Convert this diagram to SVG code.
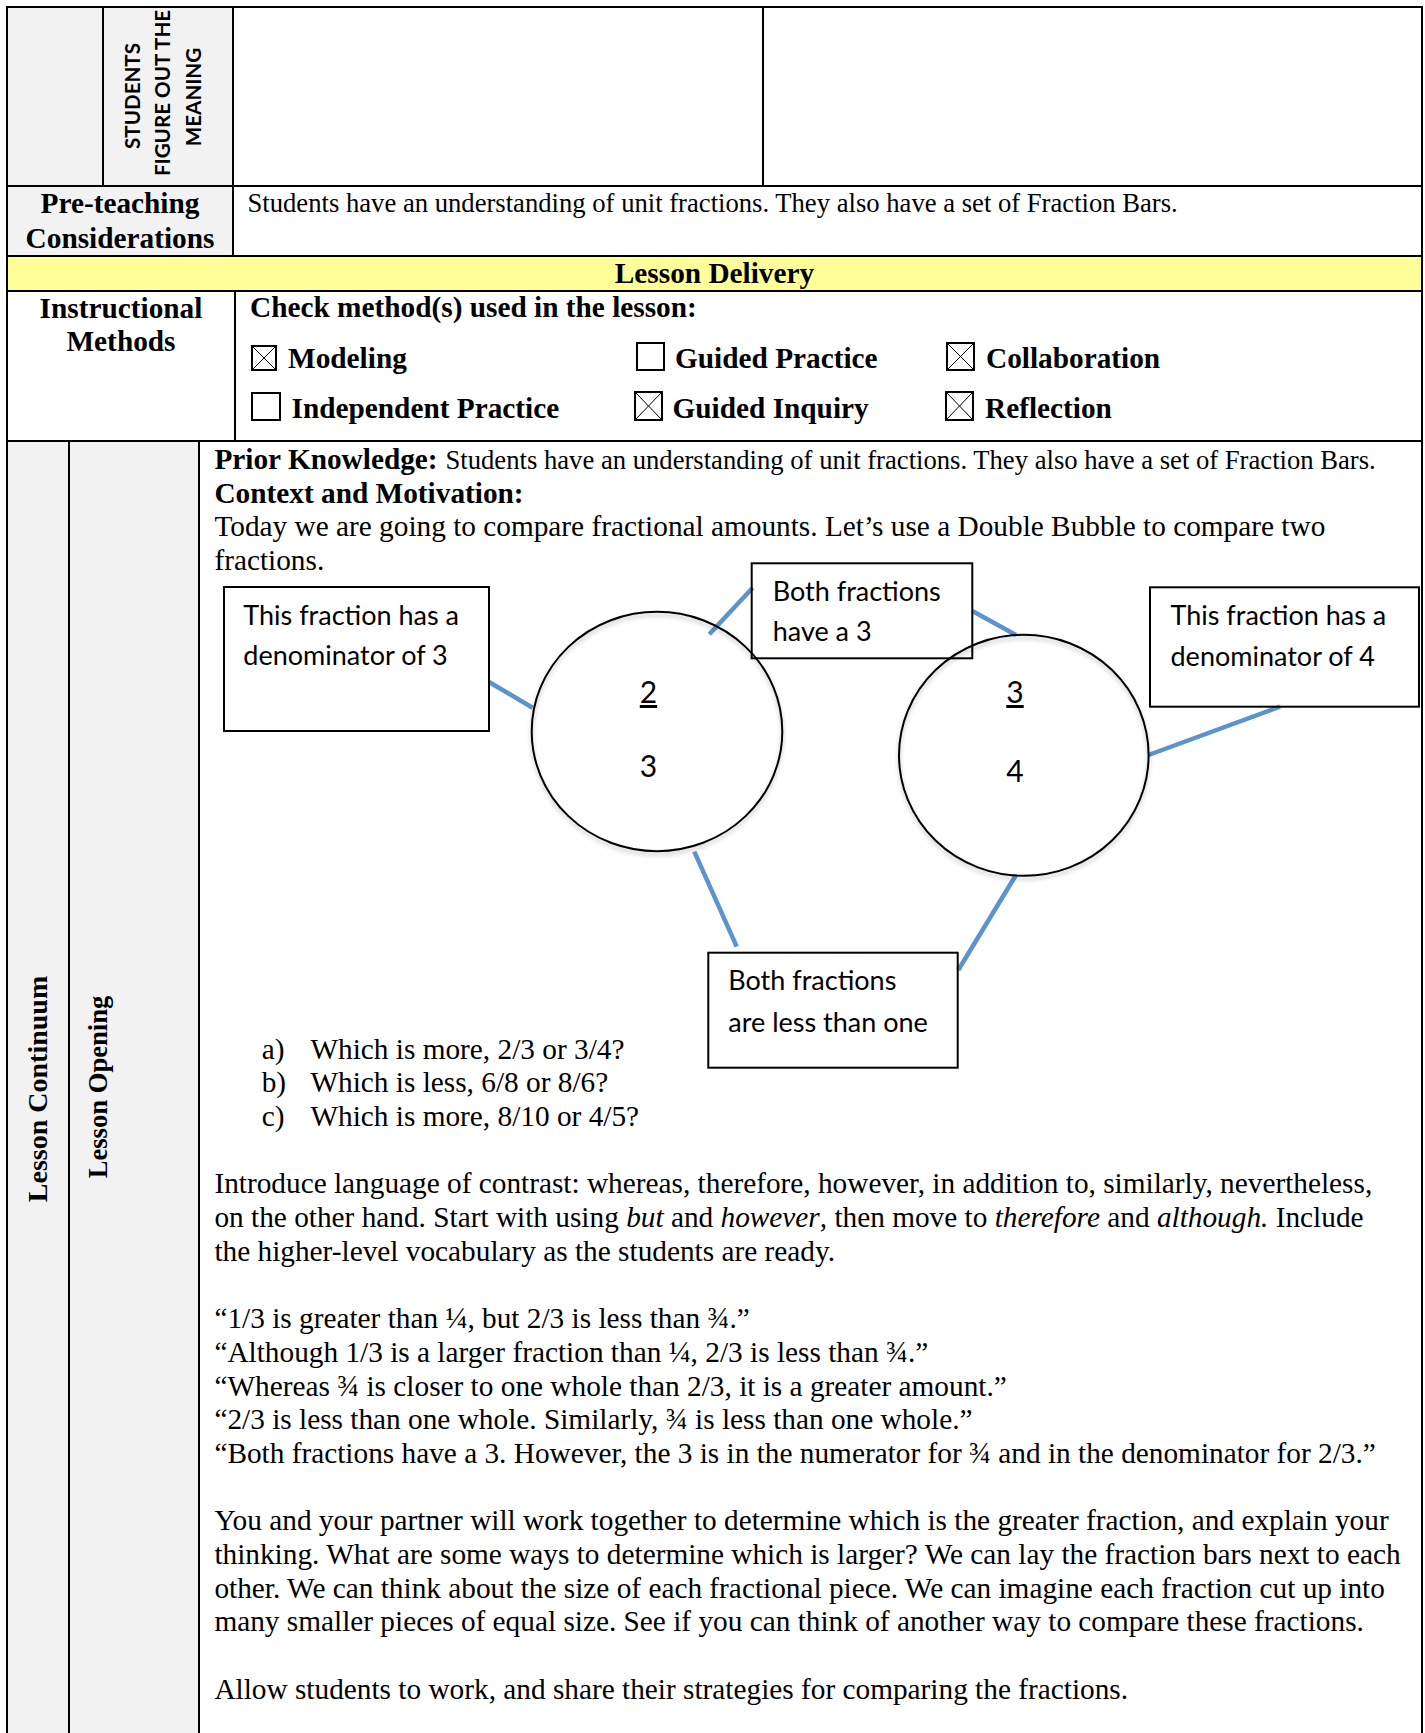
<svg xmlns="http://www.w3.org/2000/svg" width="1425" height="1733" viewBox="0 0 1425 1733">
<defs>
<style>
.t{font-family:"Liberation Serif","Times New Roman",serif;font-size:29.3px;fill:#000}
.b{font-weight:bold}
.s{font-size:26.65px}
.i{font-style:italic}
.sans{font-family:Lato,"Liberation Sans",sans-serif;font-size:27px;fill:#000}
.vt{font-family:Lato,"Liberation Sans",sans-serif;font-weight:bold;font-size:20.6px;fill:#000}
.grid{stroke:#000;stroke-width:2;fill:none}
.cb{fill:none;stroke:#000;stroke-width:2}
.cx{stroke:#000;stroke-width:1}
.node{fill:none;stroke:#000;stroke-width:2}
.bubble{fill:none;stroke:#000;stroke-width:2;filter:url(#sh)}
.conn{stroke:#5d93cc;stroke-width:4.5;fill:none}
</style>
<filter id="sh" x="-20%" y="-20%" width="140%" height="150%">
<feDropShadow dx="0" dy="3" stdDeviation="2" flood-color="#000" flood-opacity="0.25"/>
</filter>
</defs>
<rect width="1425" height="1733" fill="#fff"/>

<g id="table-fills">
<rect x="7" y="7" width="226" height="179" fill="#f2f2f2"/>
<rect x="7" y="186" width="226" height="70" fill="#f2f2f2"/>
<rect x="7" y="256" width="1415" height="35" fill="#ffff99"/>
<rect x="7" y="441" width="192" height="1292" fill="#f2f2f2"/>
</g>

<g id="table-grid" class="grid">
<line x1="6" y1="7" x2="1423" y2="7"/>
<line x1="6" y1="186" x2="1423" y2="186"/>
<line x1="6" y1="256" x2="1423" y2="256"/>
<line x1="6" y1="291" x2="1423" y2="291"/>
<line x1="6" y1="441" x2="1423" y2="441"/>
<line x1="7" y1="7" x2="7" y2="1733"/>
<line x1="1422" y1="7" x2="1422" y2="1733"/>
<line x1="103" y1="7" x2="103" y2="186"/>
<line x1="233" y1="7" x2="233" y2="256"/>
<line x1="763" y1="7" x2="763" y2="186"/>
<line x1="235" y1="291" x2="235" y2="441"/>
<line x1="69" y1="441" x2="69" y2="1733"/>
<line x1="199" y1="441" x2="199" y2="1733"/>
</g>

<g id="row-students">
<text class="vt" text-anchor="middle" transform="translate(140,96) rotate(-90)">STUDENTS</text>
<text class="vt" text-anchor="middle" transform="translate(170,93) rotate(-90)">FIGURE OUT THE</text>
<text class="vt" text-anchor="middle" transform="translate(201,97) rotate(-90)">MEANING</text>
</g>

<g id="row-preteaching">
<text class="t b" x="120" y="213" text-anchor="middle">Pre-teaching</text>
<text class="t b" x="120" y="248" text-anchor="middle">Considerations</text>
<text class="t s" x="247.5" y="212">Students have an understanding of unit fractions. They also have a set of Fraction Bars.</text>
</g>

<g id="row-delivery">
<text class="t b" x="714.5" y="282.5" text-anchor="middle">Lesson Delivery</text>
</g>

<g id="row-methods">
<text class="t b" x="121" y="317.5" text-anchor="middle">Instructional</text>
<text class="t b" x="121" y="351" text-anchor="middle">Methods</text>
<text class="t b" x="250" y="317">Check method(s) used in the lesson:</text>
<g id="cb-modeling">
<rect class="cb" x="252" y="346" width="24" height="24"/>
<line class="cx" x1="252" y1="346" x2="276" y2="370"/><line class="cx" x1="276" y1="346" x2="252" y2="370"/>
<text class="t b" x="288" y="368">Modeling</text>
</g>
<g id="cb-guided-practice">
<rect class="cb" x="637" y="343" width="27" height="27"/>
<text class="t b" x="675" y="368">Guided Practice</text>
</g>
<g id="cb-collaboration">
<rect class="cb" x="947" y="343" width="27" height="27"/>
<line class="cx" x1="947" y1="343" x2="974" y2="370"/><line class="cx" x1="974" y1="343" x2="947" y2="370"/>
<text class="t b" x="986" y="368">Collaboration</text>
</g>
<g id="cb-independent">
<rect class="cb" x="252" y="393" width="28" height="27"/>
<text class="t b" x="291.5" y="418">Independent Practice</text>
</g>
<g id="cb-guided-inquiry">
<rect class="cb" x="635" y="392" width="27" height="28"/>
<line class="cx" x1="635" y1="392" x2="662" y2="420"/><line class="cx" x1="662" y1="392" x2="635" y2="420"/>
<text class="t b" x="672.5" y="418">Guided Inquiry</text>
</g>
<g id="cb-reflection">
<rect class="cb" x="946" y="392" width="27" height="28"/>
<line class="cx" x1="946" y1="392" x2="973" y2="420"/><line class="cx" x1="973" y1="392" x2="946" y2="420"/>
<text class="t b" x="985" y="418">Reflection</text>
</g>
</g>

<g id="row-continuum">
<text class="t b" text-anchor="middle" transform="translate(47,1089) rotate(-90)" style="font-size:28px">Lesson Continuum</text>
<text class="t b" text-anchor="middle" transform="translate(107,1087) rotate(-90)" style="font-size:26.6px">Lesson Opening</text>
</g>

<g id="content-text">
<text class="t" x="214.4" y="469"><tspan class="b">Prior Knowledge:</tspan><tspan class="s" x="445.5">Students have an understanding of unit fractions. They also have a set of Fraction Bars.</tspan></text>
<text class="t b" x="214.4" y="502.7">Context and Motivation:</text>
<text class="t" x="214.4" y="536.4">Today we are going to compare fractional amounts. Let’s use a Double Bubble to compare two</text>
<text class="t" x="214.4" y="570.1">fractions.</text>

<text class="t" x="261.7" y="1058.5">a)</text><text class="t" x="310.4" y="1058.5">Which is more, 2/3 or 3/4?</text>
<text class="t" x="261.7" y="1092.2">b)</text><text class="t" x="310.4" y="1092.2">Which is less, 6/8 or 8/6?</text>
<text class="t" x="261.7" y="1125.9">c)</text><text class="t" x="310.4" y="1125.9">Which is more, 8/10 or 4/5?</text>

<text class="t" x="214.4" y="1193.3">Introduce language of contrast: whereas, therefore, however, in addition to, similarly, nevertheless,</text>
<text class="t" x="214.4" y="1227">on the other hand. Start with using <tspan class="i">but</tspan> and <tspan class="i">however</tspan>, then move to <tspan class="i">therefore</tspan> and <tspan class="i">although.</tspan> Include</text>
<text class="t" x="214.4" y="1260.7">the higher-level vocabulary as the students are ready.</text>

<text class="t" x="214.4" y="1328.1">“1/3 is greater than ¼, but 2/3 is less than ¾.”</text>
<text class="t" x="214.4" y="1361.8">“Although 1/3 is a larger fraction than ¼, 2/3 is less than ¾.”</text>
<text class="t" x="214.4" y="1395.5">“Whereas ¾ is closer to one whole than 2/3, it is a greater amount.”</text>
<text class="t" x="214.4" y="1429.2">“2/3 is less than one whole. Similarly, ¾ is less than one whole.”</text>
<text class="t" x="214.4" y="1462.9">“Both fractions have a 3. However, the 3 is in the numerator for ¾ and in the denominator for 2/3.”</text>

<text class="t" x="214.4" y="1530.3">You and your partner will work together to determine which is the greater fraction, and explain your</text>
<text class="t" x="214.4" y="1564">thinking. What are some ways to determine which is larger? We can lay the fraction bars next to each</text>
<text class="t" x="214.4" y="1597.7">other. We can think about the size of each fractional piece. We can imagine each fraction cut up into</text>
<text class="t" x="214.4" y="1631.4">many smaller pieces of equal size. See if you can think of another way to compare these fractions.</text>

<text class="t" x="214.4" y="1698.8">Allow students to work, and share their strategies for comparing the fractions.</text>
</g>

<g id="connectors">
<line class="conn" x1="489" y1="682" x2="532.6" y2="707.7"/>
<line class="conn" x1="709.3" y1="634.3" x2="752.7" y2="587.7"/>
<line class="conn" x1="972.3" y1="611" x2="1016" y2="635"/>
<line class="conn" x1="1148.5" y1="755" x2="1280" y2="706.7"/>
<line class="conn" x1="694.3" y1="851.7" x2="736.7" y2="946.7"/>
<line class="conn" x1="1016" y1="875" x2="958.3" y2="970"/>
</g>

<g id="box-denominator-3">
<rect class="node" x="224" y="587" width="265" height="144"/>
<text class="sans" x="243.3" y="625">This fraction has a</text>
<text class="sans" x="243.3" y="665">denominator of 3</text>
</g>

<g id="bubble-2-3">
<ellipse class="bubble" cx="657" cy="731.5" rx="125.3" ry="119.7"/>
<text class="sans" x="648.5" y="703" text-anchor="middle" text-decoration="underline" style="font-size:30px">2</text>
<text class="sans" x="648.5" y="777" text-anchor="middle" style="font-size:30px">3</text>
</g>

<g id="box-both-have-3">
<rect class="node" x="751.7" y="563.3" width="220.6" height="95"/>
<text class="sans" x="772.7" y="601">Both fractions</text>
<text class="sans" x="772.7" y="641">have a 3</text>
</g>

<g id="bubble-3-4">
<ellipse class="bubble" cx="1023.8" cy="755.3" rx="124.8" ry="120.5"/>
<text class="sans" x="1015" y="703" text-anchor="middle" text-decoration="underline" style="font-size:30px">3</text>
<text class="sans" x="1015" y="781.5" text-anchor="middle" style="font-size:30px">4</text>
</g>

<g id="box-denominator-4">
<rect class="node" x="1150" y="587.3" width="269" height="119.4"/>
<text class="sans" x="1170.5" y="624.5">This fraction has a</text>
<text class="sans" x="1170.5" y="665.5">denominator of 4</text>
</g>

<g id="box-less-than-one">
<rect class="node" x="708.3" y="952.7" width="249.4" height="115"/>
<text class="sans" x="728.3" y="989.5">Both fractions</text>
<text class="sans" x="728.3" y="1031.7">are less than one</text>
</g>
</svg>
